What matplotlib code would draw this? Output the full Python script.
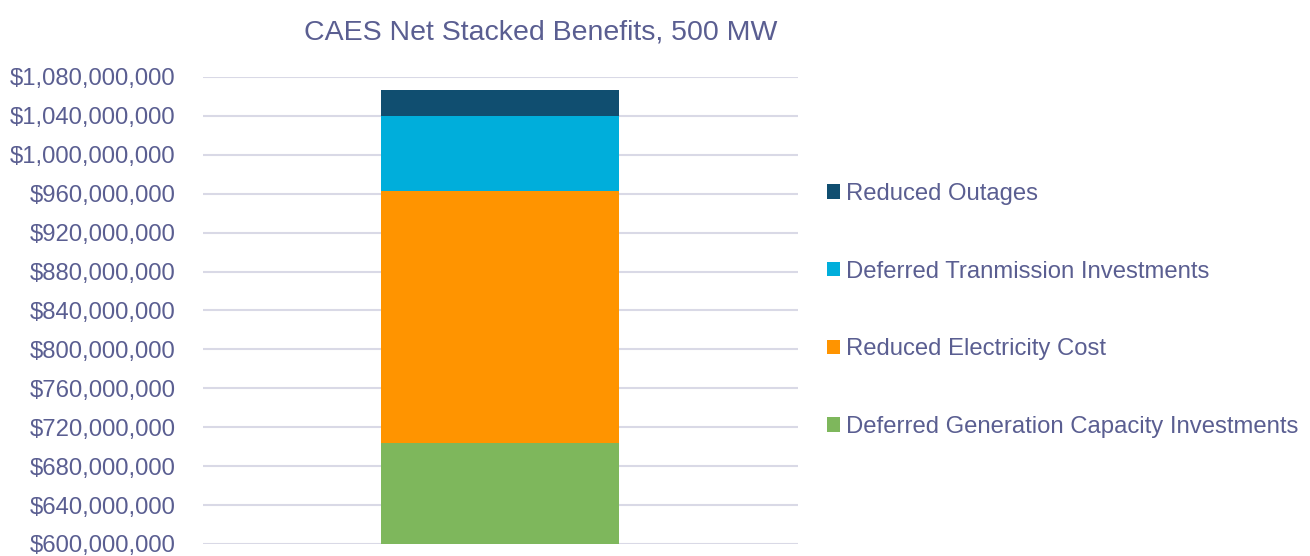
import matplotlib
matplotlib.use("Agg")
import matplotlib.pyplot as plt
from matplotlib.ticker import FuncFormatter, MultipleLocator
from matplotlib.patches import Patch

plt.rcParams['font.family'] = ['Liberation Sans', 'DejaVu Sans']

# Stacked benefit components (USD), bottom to top
categories = ["500 MW"]
series_names = [
    "Deferred Generation Capacity Investments",
    "Reduced Electricity Cost",
    "Deferred Tranmission Investments",
    "Reduced Outages",
]
series_values = [
    [703_600_000],
    [259_400_000],
    [76_700_000],
    [26_700_000],
]
series_colors = ["#7EB75C", "#FF9400", "#00AEDB", "#104E70"]

text_color = "#5A5E91"
grid_color = "#D9D9E6"

fig = plt.figure(figsize=(13.10, 5.56), dpi=100)
ax = fig.add_axes([0.155, 0.0216, 0.454, 0.84])

x = list(range(len(categories)))
bottoms = [0.0] * len(categories)
for name, vals, col in zip(series_names, series_values, series_colors):
    ax.bar(x, vals, bottom=bottoms, width=0.40, color=col, label=name, zorder=3)
    bottoms = [b + v for b, v in zip(bottoms, vals)]

ax.set_xlim(-0.5, 0.5)
ax.set_ylim(600_000_000, 1_080_000_000)
ax.yaxis.set_major_locator(MultipleLocator(40_000_000))
ax.yaxis.set_major_formatter(FuncFormatter(lambda v, p: f"${v:,.0f}"))
ax.grid(axis="y", color=grid_color, linewidth=1.5, zorder=0)
ax.set_xticks([])
for s in ax.spines.values():
    s.set_visible(False)
ax.tick_params(axis="y", length=0, labelsize=17.2, labelcolor=text_color, pad=20)

fig.suptitle("CAES Net Stacked Benefits, 500 MW", x=0.413, y=0.965,
             fontsize=20.5, color=text_color)

handles = [Patch(facecolor=c, edgecolor="none") for c in series_colors][::-1]
labels = series_names[::-1]
fig.legend(handles, labels, loc="center left", bbox_to_anchor=(0.631, 0.4416),
           frameon=False, fontsize=17.2, labelcolor=text_color,
           handlelength=0.55, handleheight=0.55, handletextpad=0.25,
           labelspacing=2.33, borderpad=0, borderaxespad=0)

fig.savefig("out.png", dpi=100)
